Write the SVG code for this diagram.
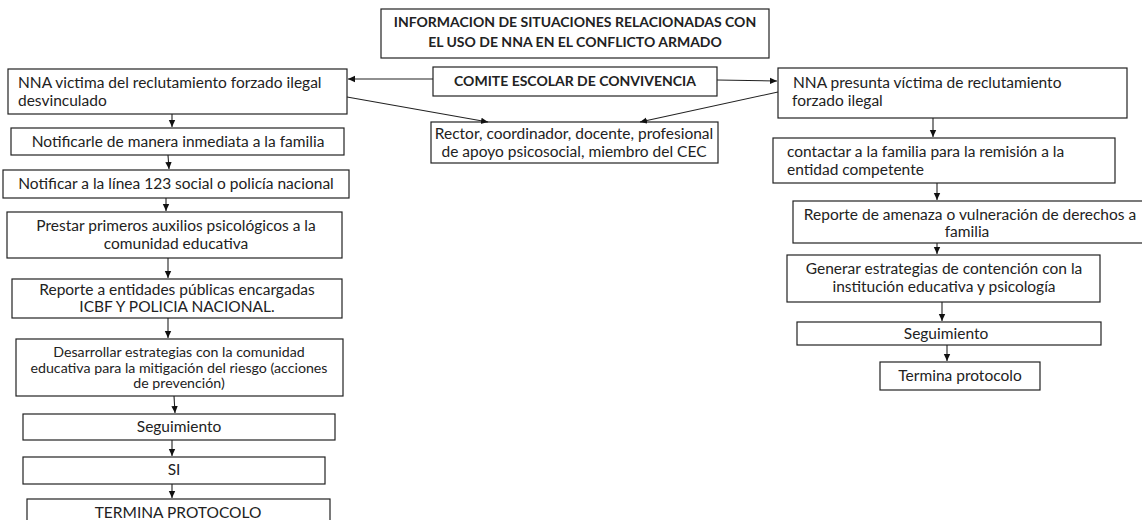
<svg xmlns="http://www.w3.org/2000/svg" width="1142" height="520" viewBox="0 0 1142 520">
<defs>
<marker id="ah" markerWidth="8" markerHeight="8" refX="7" refY="4" orient="auto" markerUnits="userSpaceOnUse">
<path d="M0,0.8 L7,4 L0,7.2 Z" fill="#111"/>
</marker>
<style>
.box{fill:#fff;stroke:#222;stroke-width:1.2}
.t{font-family:Lato,"Liberation Sans",sans-serif;font-size:15.5px;fill:#222}
.b{font-weight:bold;font-size:14px}
.s{font-size:14.2px}
.c{text-anchor:middle}
.con line{stroke:#222;stroke-width:1.1;marker-end:url(#ah)}
</style>
</defs>
<rect width="1142" height="520" fill="#fff"/>

<g id="title">
<rect class="box" x="381" y="9" width="388" height="49"/>
<text class="t b c" x="575" y="27">INFORMACION DE SITUACIONES RELACIONADAS CON</text>
<text class="t b c" x="575" y="47">EL USO DE NNA EN EL CONFLICTO ARMADO</text>
</g>

<g id="comite">
<rect class="box" x="433" y="67" width="284" height="29"/>
<text class="t b c" x="575" y="86">COMITE ESCOLAR DE CONVIVENCIA</text>
</g>

<g id="rector">
<rect class="box" x="431" y="122" width="287" height="41"/>
<text class="t c" x="574" y="139">Rector, coordinador, docente, profesional</text>
<text class="t c" x="574" y="157">de apoyo psicosocial, miembro del CEC</text>
</g>

<g id="l1">
<rect class="box" x="8" y="69" width="339" height="45"/>
<text class="t" x="18" y="88">NNA victima del reclutamiento forzado ilegal</text>
<text class="t" x="18" y="106">desvinculado</text>
</g>
<g id="l2">
<rect class="box" x="11" y="128" width="333" height="27"/>
<text class="t c" x="178" y="147">Notificarle de manera inmediata a la familia</text>
</g>
<g id="l3">
<rect class="box" x="3" y="170" width="346" height="28"/>
<text class="t c" x="176" y="189">Notificar a la línea 123 social o policía nacional</text>
</g>
<g id="l4">
<rect class="box" x="7" y="212" width="335" height="46"/>
<text class="t c" x="176" y="231">Prestar primeros auxilios psicológicos a la</text>
<text class="t c" x="176" y="249">comunidad educativa</text>
</g>
<g id="l5">
<rect class="box" x="12" y="279" width="330" height="39"/>
<text class="t c" x="177" y="295">Reporte a entidades públicas encargadas</text>
<text class="t c" x="177" y="312">ICBF Y POLICIA NACIONAL.</text>
</g>
<g id="l6">
<rect class="box" x="16" y="339" width="327" height="57"/>
<text class="t c s" x="179" y="357">Desarrollar estrategias con la comunidad</text>
<text class="t c s" x="179" y="373">educativa para la mitigación del riesgo (acciones</text>
<text class="t c s" x="179" y="388">de prevención)</text>
</g>
<g id="l7">
<rect class="box" x="23" y="414" width="312" height="26"/>
<text class="t c" x="179" y="432">Seguimiento</text>
</g>
<g id="l8">
<rect class="box" x="23" y="457" width="302" height="27"/>
<text class="t c" x="174" y="475">SI</text>
</g>
<g id="l9">
<rect class="box" x="27" y="499" width="303" height="30"/>
<text class="t c" x="178" y="518">TERMINA PROTOCOLO</text>
</g>

<g id="r1">
<rect class="box" x="778" y="68" width="349" height="50"/>
<text class="t" x="789" y="88" xml:space="preserve"> NNA presunta víctima de reclutamiento</text>
<text class="t" x="792" y="106">forzado ilegal</text>
</g>
<g id="r2">
<rect class="box" x="773" y="138" width="342" height="45"/>
<text class="t" x="787" y="157">contactar a la familia para la remisión a la</text>
<text class="t" x="787" y="175">entidad competente</text>
</g>
<g id="r3">
<rect class="box" x="793" y="201" width="352" height="42"/>
<text class="t c" x="970" y="220">Reporte de amenaza o vulneración de derechos a</text>
<text class="t c" x="967" y="237">familia</text>
</g>
<g id="r4">
<rect class="box" x="787" y="255" width="313" height="47"/>
<text class="t c" x="944" y="274">Generar estrategias de contención con la</text>
<text class="t c" x="944" y="292">institución educativa y psicología</text>
</g>
<g id="r5">
<rect class="box" x="797" y="322" width="304" height="23"/>
<text class="t c" x="946" y="339">Seguimiento</text>
</g>
<g id="r6">
<rect class="box" x="880" y="362" width="160" height="28"/>
<text class="t c" x="960" y="381">Termina protocolo</text>
</g>

<g id="connectors" class="con">
<line x1="433" y1="79" x2="348" y2="79"/>
<line x1="717" y1="80" x2="777" y2="81"/>
<line x1="347" y1="97" x2="488" y2="122"/>
<line x1="778" y1="92" x2="640" y2="122"/>
<line x1="172" y1="114" x2="172" y2="127"/>
<line x1="168" y1="155" x2="169" y2="169"/>
<line x1="166" y1="198" x2="166" y2="211"/>
<line x1="168" y1="258" x2="168" y2="278"/>
<line x1="168" y1="318" x2="168" y2="338"/>
<line x1="174" y1="396" x2="175" y2="413"/>
<line x1="172" y1="440" x2="172" y2="456"/>
<line x1="172" y1="484" x2="172" y2="498"/>
<line x1="933" y1="118" x2="933" y2="137"/>
<line x1="937" y1="183" x2="937" y2="200"/>
<line x1="937" y1="243" x2="937" y2="254"/>
<line x1="942" y1="302" x2="942" y2="321"/>
<line x1="947" y1="345" x2="947" y2="361"/>
</g>
</svg>
